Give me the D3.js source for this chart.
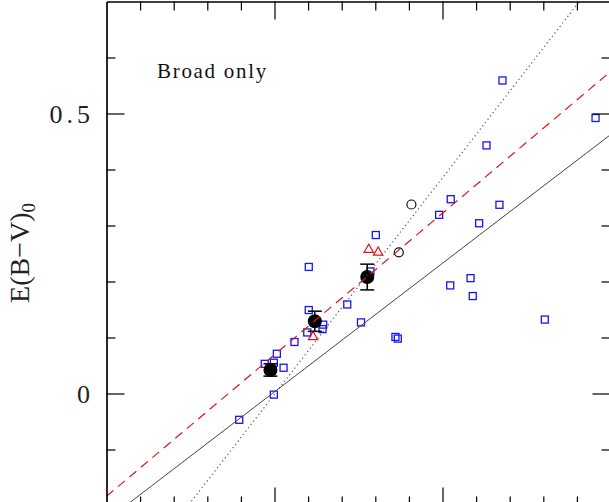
<!DOCTYPE html>
<html>
<head>
<meta charset="utf-8">
<script src="https://cdn.jsdelivr.net/npm/d3@7"></script>
<style>
  body { margin: 0; background: #fff; }
  svg { display: block; }
</style>
</head>
<body>
<svg width="609" height="502"></svg>
<script>
// blue open squares
const sqX = [0.790, 0.996, 0.942, 0.996, 1.014, 1.054, 1.119, 1.204, 1.204, 1.195, 1.290, 1.286, 1.433, 1.515, 1.603,
  1.571, 1.720, 1.734, 1.980, 2.049, 2.218, 2.262, 2.339, 2.357, 2.167, 2.046, 2.180, 2.609, 2.911]
const sqY = [-0.047, -0.002, 0.053, 0.055, 0.071, 0.046, 0.092, 0.226, 0.149, 0.109, 0.123, 0.115, 0.159, 0.127, 0.283,
  0.218, 0.101, 0.098, 0.319, 0.347, 0.304, 0.443, 0.337, 0.559, 0.206, 0.193, 0.174, 0.132, 0.492]

// red open triangles
const triX = [1.561, 1.617, 1.230]
const triY = [0.257, 0.252, 0.101]

// black open circles
const circX = [1.815, 1.740]
const circY = [0.3375, 0.252]

// binned means with error bars
const meanX = [0.976, 1.240, 1.552]
const meanY = [0.042, 0.129, 0.208]
const meanErr = [0.011, 0.018, 0.023]

// fitted lines: y = a + b x
const fitNames = ['solid', 'dashed', 'dotted']
const fitA = [-0.2266, -0.1836, -0.3879]
const fitB = [0.2296, 0.2528, 0.3865]

// ticks
const yMajor = [0, 0.5]
const yMinor = [-0.1, 0.1, 0.2, 0.3, 0.4, 0.6]
const xMajor = [1, 2]
const xMinor = [0.2, 0.4, 0.6, 0.8, 1.2, 1.4, 1.6, 1.8, 2.2, 2.4, 2.6, 2.8]

const svg = d3.select('svg')

const x = d3.scaleLinear().domain([0, 3]).range([106.5, 610.5])
const y = d3.scaleLinear().domain([-0.2, 0.7]).range([505.5, 1.5])

svg.append('defs')
  .append('clipPath')
  .attr('id', 'plot')
  .append('rect')
  .attr('x', x(0)).attr('y', y(0.7))
  .attr('width', x(3) - x(0)).attr('height', y(-0.2) - y(0.7))

const plot = svg.append('g').attr('clip-path', 'url(#plot)')

// points
plot.selectAll('.sq')
  .data(sqX.map((d, i) => [d, sqY[i]]))
  .enter()
  .append('rect')
  .attr('class', 'sq')
  .attr('x', d => x(d[0]) - 3.5)
  .attr('y', d => y(d[1]) - 3.5)
  .attr('width', 7)
  .attr('height', 7)
  .attr('fill', 'none')
  .attr('stroke', '#1414ff')
  .attr('stroke-width', 1.3)

plot.selectAll('.tri')
  .data(triX.map((d, i) => [d, triY[i]]))
  .enter()
  .append('path')
  .attr('class', 'tri')
  .attr('d', d3.symbol(d3.symbolTriangle, 38))
  .attr('transform', d => `translate(${x(d[0])}, ${y(d[1])})`)
  .attr('fill', 'none')
  .attr('stroke', '#ee1111')
  .attr('stroke-width', 1.2)

plot.selectAll('.circ')
  .data(circX.map((d, i) => [d, circY[i]]))
  .enter()
  .append('circle')
  .attr('class', 'circ')
  .attr('cx', d => x(d[0]))
  .attr('cy', d => y(d[1]))
  .attr('r', 4.5)
  .attr('fill', 'none')
  .attr('stroke', '#111')
  .attr('stroke-width', 1.2)

const means = meanX.map((d, i) => ({x: d, y: meanY[i], e: meanErr[i]}))

const bars = plot.selectAll('.err')
  .data(means)
  .enter()
  .append('g')
  .attr('class', 'err')
  .attr('stroke', '#000')
  .attr('stroke-width', 1.5)

bars.append('line')
  .attr('x1', d => x(d.x)).attr('x2', d => x(d.x))
  .attr('y1', d => y(d.y - d.e)).attr('y2', d => y(d.y + d.e))
bars.append('line')
  .attr('x1', d => x(d.x) - 7).attr('x2', d => x(d.x) + 7)
  .attr('y1', d => y(d.y - d.e)).attr('y2', d => y(d.y - d.e))
bars.append('line')
  .attr('x1', d => x(d.x) - 7).attr('x2', d => x(d.x) + 7)
  .attr('y1', d => y(d.y + d.e)).attr('y2', d => y(d.y + d.e))

plot.selectAll('.mean')
  .data(means)
  .enter()
  .append('circle')
  .attr('class', 'mean')
  .attr('cx', d => x(d.x))
  .attr('cy', d => y(d.y))
  .attr('r', 7)
  .attr('fill', '#000')

// fit lines
const lineStyle = {
  solid: {stroke: '#444', dash: null, width: 1},
  dashed: {stroke: '#e01515', dash: '9,6', width: 1.2},
  dotted: {stroke: '#555', dash: '1.2,3', width: 1.2}
}

plot.selectAll('.fit')
  .data(fitNames.map((n, i) => ({name: n, a: fitA[i], b: fitB[i]})))
  .enter()
  .append('line')
  .attr('class', 'fit')
  .attr('x1', x(0))
  .attr('x2', x(3))
  .attr('y1', d => y(d.a))
  .attr('y2', d => y(d.a + d.b * 3))
  .attr('stroke', d => lineStyle[d.name].stroke)
  .attr('stroke-width', d => lineStyle[d.name].width)
  .attr('stroke-dasharray', d => lineStyle[d.name].dash)

// axes, ticks pointing inward on all four sides
const addAxis = (axis, tr, vals, size) => {
  const g = svg.append('g')
    .attr('transform', tr)
    .call(axis.tickValues(vals).tickSizeInner(size).tickSizeOuter(0).tickFormat(''))
  g.select('.domain').attr('stroke', '#000').attr('stroke-width', 1.2)
  g.selectAll('.tick line').attr('stroke', '#000').attr('stroke-width', 1.2)
  return g
}

addAxis(d3.axisLeft(y), `translate(${x(0)},0)`, yMajor, -18)
addAxis(d3.axisLeft(y), `translate(${x(0)},0)`, yMinor, -9)
addAxis(d3.axisRight(y), `translate(${x(3)},0)`, yMajor, -18)
addAxis(d3.axisRight(y), `translate(${x(3)},0)`, yMinor, -9)
addAxis(d3.axisTop(x), `translate(0,${y(0.7)})`, xMajor, -18)
addAxis(d3.axisTop(x), `translate(0,${y(0.7)})`, xMinor, -9)
addAxis(d3.axisBottom(x), `translate(0,${y(-0.2)})`, xMajor, -18)
addAxis(d3.axisBottom(x), `translate(0,${y(-0.2)})`, xMinor, -9)

// y tick labels
svg.selectAll('.ylab')
  .data(yMajor)
  .enter()
  .append('text')
  .attr('class', 'ylab')
  .attr('x', 94)
  .attr('y', d => y(d) + 9)
  .attr('text-anchor', 'end')
  .attr('font-family', 'Liberation Serif, serif')
  .attr('font-size', 26)
  .attr('letter-spacing', 4)
  .attr('fill', '#222')
  .text(d => d === 0 ? '0' : d3.format('.1f')(d))

// y axis title
const yt = svg.append('text')
  .attr('transform', 'translate(29, 253) rotate(-90)')
  .attr('text-anchor', 'middle')
  .attr('font-family', 'Liberation Serif, serif')
  .attr('font-size', 28)
  .attr('fill', '#222')
yt.append('tspan').text('E(B\u2212V)')
yt.append('tspan').attr('font-size', 19).attr('dy', 6).text('0')

// panel label
svg.append('text')
  .attr('x', 157)
  .attr('y', 78)
  .attr('font-family', 'Liberation Serif, serif')
  .attr('font-size', 21)
  .attr('letter-spacing', 1.7)
  .attr('fill', '#111')
  .text('Broad only')
</script>
</body>
</html>
